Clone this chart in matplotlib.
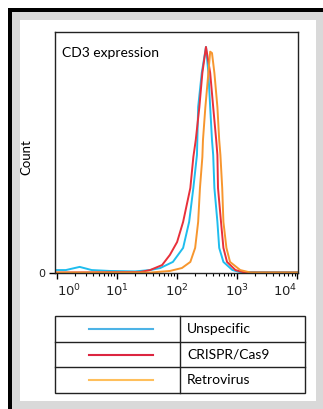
import matplotlib.pyplot as plt
import matplotlib.patches as mpatches
import numpy as np

# histogram outlines: log10(intensity) and % of mode
unspec_log = [-0.03, 0.15, 0.38, 0.58, 0.88, 1.30, 1.55, 1.72, 1.93, 2.10, 2.20, 2.27,
              2.33, 2.35, 2.41, 2.48, 2.52, 2.55, 2.58, 2.60, 2.62, 2.67, 2.70, 2.77,
              2.92, 3.05, 4.0]
unspec_val = [1.3, 1.3, 2.7, 1.3, 0.9, 0.7, 1.3, 2.2, 4.9, 11.1, 22.6, 37.6,
              52.2, 73.4, 88.5, 100.0, 88.5, 73.4, 58.8, 52.2, 37.6, 22.6, 11.1, 4.9,
              1.3, 0.4, 0.4]

crispr_log = [-0.03, 1.38, 1.55, 1.75, 1.88, 2.00, 2.10, 2.22, 2.27, 2.31, 2.37, 2.42,
              2.48, 2.55, 2.60, 2.65, 2.67, 2.68, 2.73, 2.77, 2.83, 2.97, 3.13, 4.0]
crispr_val = [0.2, 0.4, 1.3, 3.5, 8.0, 13.7, 22.6, 37.6, 51.3, 58.8, 73.4, 88.5,
              100.0, 88.5, 73.4, 58.8, 52.2, 37.6, 22.6, 11.1, 4.9, 1.3, 0.2, 0.2]

retro_log = [-0.03, 1.55, 1.88, 2.08, 2.22, 2.30, 2.35, 2.38, 2.42, 2.43, 2.47, 2.52,
             2.55, 2.58, 2.62, 2.67, 2.70, 2.72, 2.75, 2.77, 2.82, 2.88, 3.05, 3.22, 4.0]
retro_val = [0.2, 0.2, 0.9, 2.2, 4.9, 11.1, 22.6, 37.6, 51.3, 58.8, 73.4, 88.5,
             97.9, 97.3, 88.5, 73.4, 58.8, 52.2, 37.6, 22.6, 11.1, 4.9, 1.3, 0.2, 0.2]

series_names = ['Unspecific', 'CRISPR/Cas9', 'Retrovirus']
curve_colors = ['#1fbdee', '#e8303a', '#f7962e']
legend_colors = ['#4db3e6', '#dc2540', '#ffbf5c']

tick_exps = [0, 1, 2, 3, 4]

W, H = 323, 409
fig = plt.figure(figsize=(W / 100, H / 100), dpi=100)
fig.patch.set_facecolor('#d9d9d9')


def px_rect(x0, y0, x1, y1, color):
    # rectangle given in pixel coords, origin top-left
    fig.patches.append(mpatches.Rectangle((x0 / W, 1 - y1 / H), (x1 - x0) / W, (y1 - y0) / H,
                                          transform=fig.transFigure, fc=color, lw=0, zorder=-3))


# screenshot frame: white margin, black top/left edge, gray band, white panel
px_rect(0, 0, W, 8, 'white')
px_rect(0, 0, 8, H, 'white')
px_rect(8, 8, W, 12, 'black')
px_rect(8, 8, 12, H, 'black')
px_rect(20, 20, 316, 401, 'white')

ax = fig.add_axes([55 / W, (H - 273) / H, 243 / W, 241 / H])
for lx, v, c in zip([unspec_log, crispr_log, retro_log],
                    [unspec_val, crispr_val, retro_val], curve_colors):
    ax.plot(10 ** np.array(lx), v, color=c, lw=1.4)

ax.set_xscale('log')
ax.set_xlim(10 ** -0.03, 10 ** 4.01)
ax.set_ylim(0, 106.6)
ax.set_xticks([10.0 ** e for e in tick_exps])
ax.set_xticklabels([f'$10^{{{e}}}$' for e in tick_exps], fontsize=9.5, color='#222222')
labels = ax.get_xticklabels()
labels[0].set_ha('left')
labels[-1].set_ha('right')
ax.set_yticks([0])
ax.set_yticklabels(['0'], fontsize=8, color='#222222')
ax.tick_params(axis='x', which='major', direction='out', length=4, width=1, pad=3)
ax.tick_params(axis='x', which='minor', direction='out', length=2.5, width=0.8)
ax.tick_params(axis='y', direction='out', length=4, width=1, pad=3)
for s in ax.spines.values():
    s.set_linewidth(1.0)
    s.set_color('#222222')
ax.set_ylabel('Count', family='Lato', fontsize=9.5)
ax.yaxis.set_label_coords(-0.095, 0.48)
ax.text(0.029, 0.913, 'CD3 expression', transform=ax.transAxes, family='Lato',
        fontsize=10, va='center', ha='left')

# legend drawn as a small table
lg = fig.add_axes([55 / W, (H - 393) / H, 250 / W, 77 / H])
lg.set_xlim(0, 250)
lg.set_ylim(0, 3)
lg.axis('off')
lg.add_patch(mpatches.Rectangle((0, 0), 250, 3, fill=False, lw=1.0, ec='#222222', clip_on=False))
lg.plot([125, 125], [0, 3], color='#222222', lw=1.0, clip_on=False)
for k in (1, 2):
    lg.plot([0, 250], [k, k], color='#222222', lw=1.0, clip_on=False)
for i, (name, c) in enumerate(zip(series_names, legend_colors)):
    yc = 2.5 - i
    lg.plot([34, 98], [yc, yc], color=c, lw=1.5)
    lg.text(132, yc, name, family='Lato', fontsize=10, va='center', ha='left')

fig.savefig('out.png', dpi=100)
